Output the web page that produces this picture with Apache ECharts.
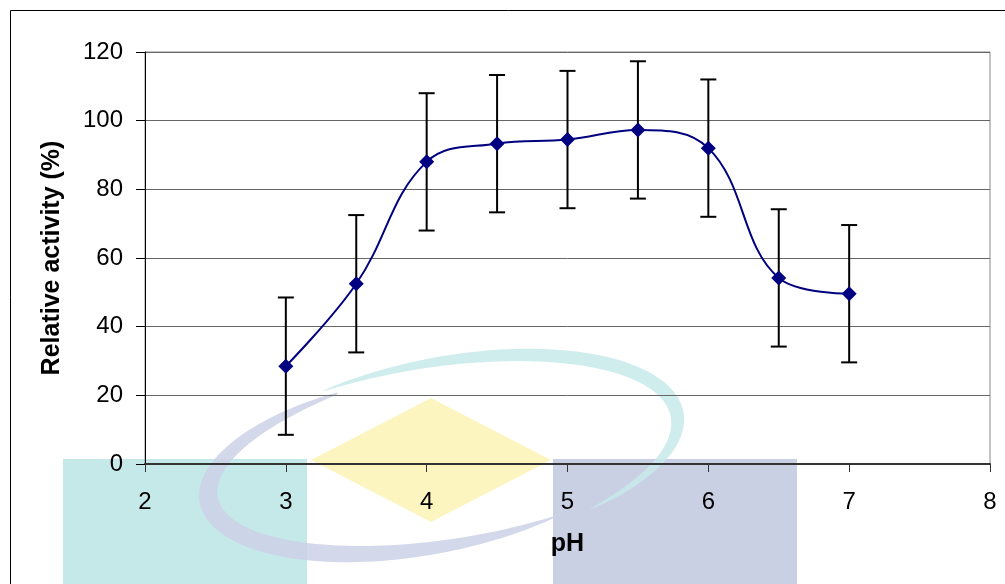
<!DOCTYPE html>
<html>
<head>
<meta charset="utf-8">
<script src="https://cdn.jsdelivr.net/npm/echarts@6/dist/echarts.min.js"></script>
<style>
    html, body {margin: 0; padding: 0; background: #fff;}
    #chart {width: 1005px; height: 584px;}
</style>
</head>
<body>
<div id="chart"></div>
<script>
    // pH values and relative activity (%) with +/- error
    var phList = [3, 3.5, 4, 4.5, 5, 5.5, 6, 6.5, 7]
    var activityList = [28.5, 52.5, 88, 93.3, 94.5, 97.3, 92, 54.2, 49.6]
    var errorList = [20, 20, 20, 20, 20, 20, 20, 20, 20]
    var xTicks = [2, 3, 4, 5, 6, 7, 8]
    var yTicks = [0, 20, 40, 60, 80, 100, 120]

    var font = '"Liberation Sans", Arial, sans-serif'

    // tapered elliptic ring piece, only used for the faint logo in the background
    function ringPoints(cx, cy, a, b, rotDeg, fromDeg, toDeg, maxTh){
        var outer = [], inner = []
        var r = rotDeg * Math.PI / 180
        for (var d = fromDeg; d <= toDeg; d += 2) {
            var t = d * Math.PI / 180
            var th = maxTh * Math.pow(Math.sin(Math.PI * (d - fromDeg) / (toDeg - fromDeg)), 0.7) / 2
            var pt = function (k) {
                var ex = (a + k) * Math.cos(t), ey = (b + k) * Math.sin(t)
                return [cx + ex * Math.cos(r) - ey * Math.sin(r), cy + ex * Math.sin(r) + ey * Math.cos(r)]
            }
            outer.push(pt(th))
            inner.unshift(pt(-th))
        }
        return outer.concat(inner)
    }

    var lineData = phList.map(function (p, i) { return [p, activityList[i]] })
    var errData = phList.map(function (p, i) {
        return [p, activityList[i] - errorList[i], activityList[i] + errorList[i]]
    })

    var myChart = echarts.init(document.getElementById('chart'))
    myChart.setOption({
        animation: false,
        backgroundColor: '#fff',
        graphic: [
            // outer frame
            {type: 'rect', z: -20, shape: {x: 10.5, y: 10.5, width: 1100, height: 700},
                style: {fill: null, stroke: '#000', lineWidth: 1}},
            // watermark logo
            {type: 'rect', z: -10, shape: {x: 63, y: 459, width: 244, height: 140}, style: {fill: '#c5e9e8'}},
            {type: 'rect', z: -10, shape: {x: 553, y: 459, width: 244, height: 140}, style: {fill: '#c9d0e4'}},
            {type: 'polygon', z: -10, shape: {points: [[431, 398], [551, 460], [431, 522], [311, 460]]},
                style: {fill: '#fdf5c0'}},
            {type: 'polygon', z: -9, shape: {points: ringPoints(438, 458, 233, 88, -10.3, 62, 250, 20)},
                style: {fill: '#cdd1e8', opacity: 0.85}},
            {type: 'polygon', z: -9, shape: {points: ringPoints(438, 458, 243, 95, -10.3, 245, 415, 15)},
                style: {fill: '#c8eaea', opacity: 0.85}}
        ],
        grid: {
            left: 145,
            right: 15,
            top: 52,
            bottom: 120,
            show: true,
            borderColor: '#888',
            borderWidth: 1,
            backgroundColor: 'transparent'
        },
        xAxis: {
            type: 'value',
            min: 2,
            max: 8,
            interval: 1,
            name: 'pH',
            nameLocation: 'middle',
            nameGap: 68,
            nameTextStyle: {fontFamily: font, fontSize: 25, fontWeight: 'bold', color: '#000'},
            axisLine: {onZero: false, lineStyle: {color: '#333', width: 2}},
            axisTick: {show: true, length: 8, lineStyle: {color: '#333'}},
            axisLabel: {fontFamily: font, fontSize: 24, color: '#000', margin: 26},
            splitLine: {show: false}
        },
        yAxis: {
            type: 'value',
            min: 0,
            max: 120,
            interval: 20,
            name: 'Relative activity (%)',
            nameLocation: 'middle',
            nameGap: 80,
            nameTextStyle: {fontFamily: font, fontSize: 25, fontWeight: 'bold', color: '#000'},
            axisLine: {show: true, lineStyle: {color: '#000', width: 1}},
            axisTick: {show: true, length: 9, lineStyle: {color: '#000'}},
            axisLabel: {fontFamily: font, fontSize: 24, color: '#000', margin: 22},
            splitLine: {show: true, lineStyle: {color: '#666', width: 1}}
        },
        series: [
            {
                type: 'custom',
                z: 1,
                data: errData,
                renderItem: function (params, api) {
                    var x = api.value(0)
                    var lo = api.coord([x, api.value(1)])
                    var hi = api.coord([x, api.value(2)])
                    var cap = 8
                    var st = {stroke: '#000', lineWidth: 2}
                    return {
                        type: 'group',
                        children: [
                            {type: 'line', shape: {x1: lo[0], y1: lo[1], x2: hi[0], y2: hi[1]}, style: st},
                            {type: 'line', shape: {x1: hi[0] - cap, y1: hi[1], x2: hi[0] + cap, y2: hi[1]}, style: st},
                            {type: 'line', shape: {x1: lo[0] - cap, y1: lo[1], x2: lo[0] + cap, y2: lo[1]}, style: st}
                        ]
                    }
                }
            },
            {
                type: 'line',
                z: 3,
                data: lineData,
                smooth: 0.4,
                symbol: 'diamond',
                symbolSize: 15,
                lineStyle: {color: '#000080', width: 2},
                itemStyle: {color: '#000080'}
            }
        ]
    })
</script>
</body>
</html>
